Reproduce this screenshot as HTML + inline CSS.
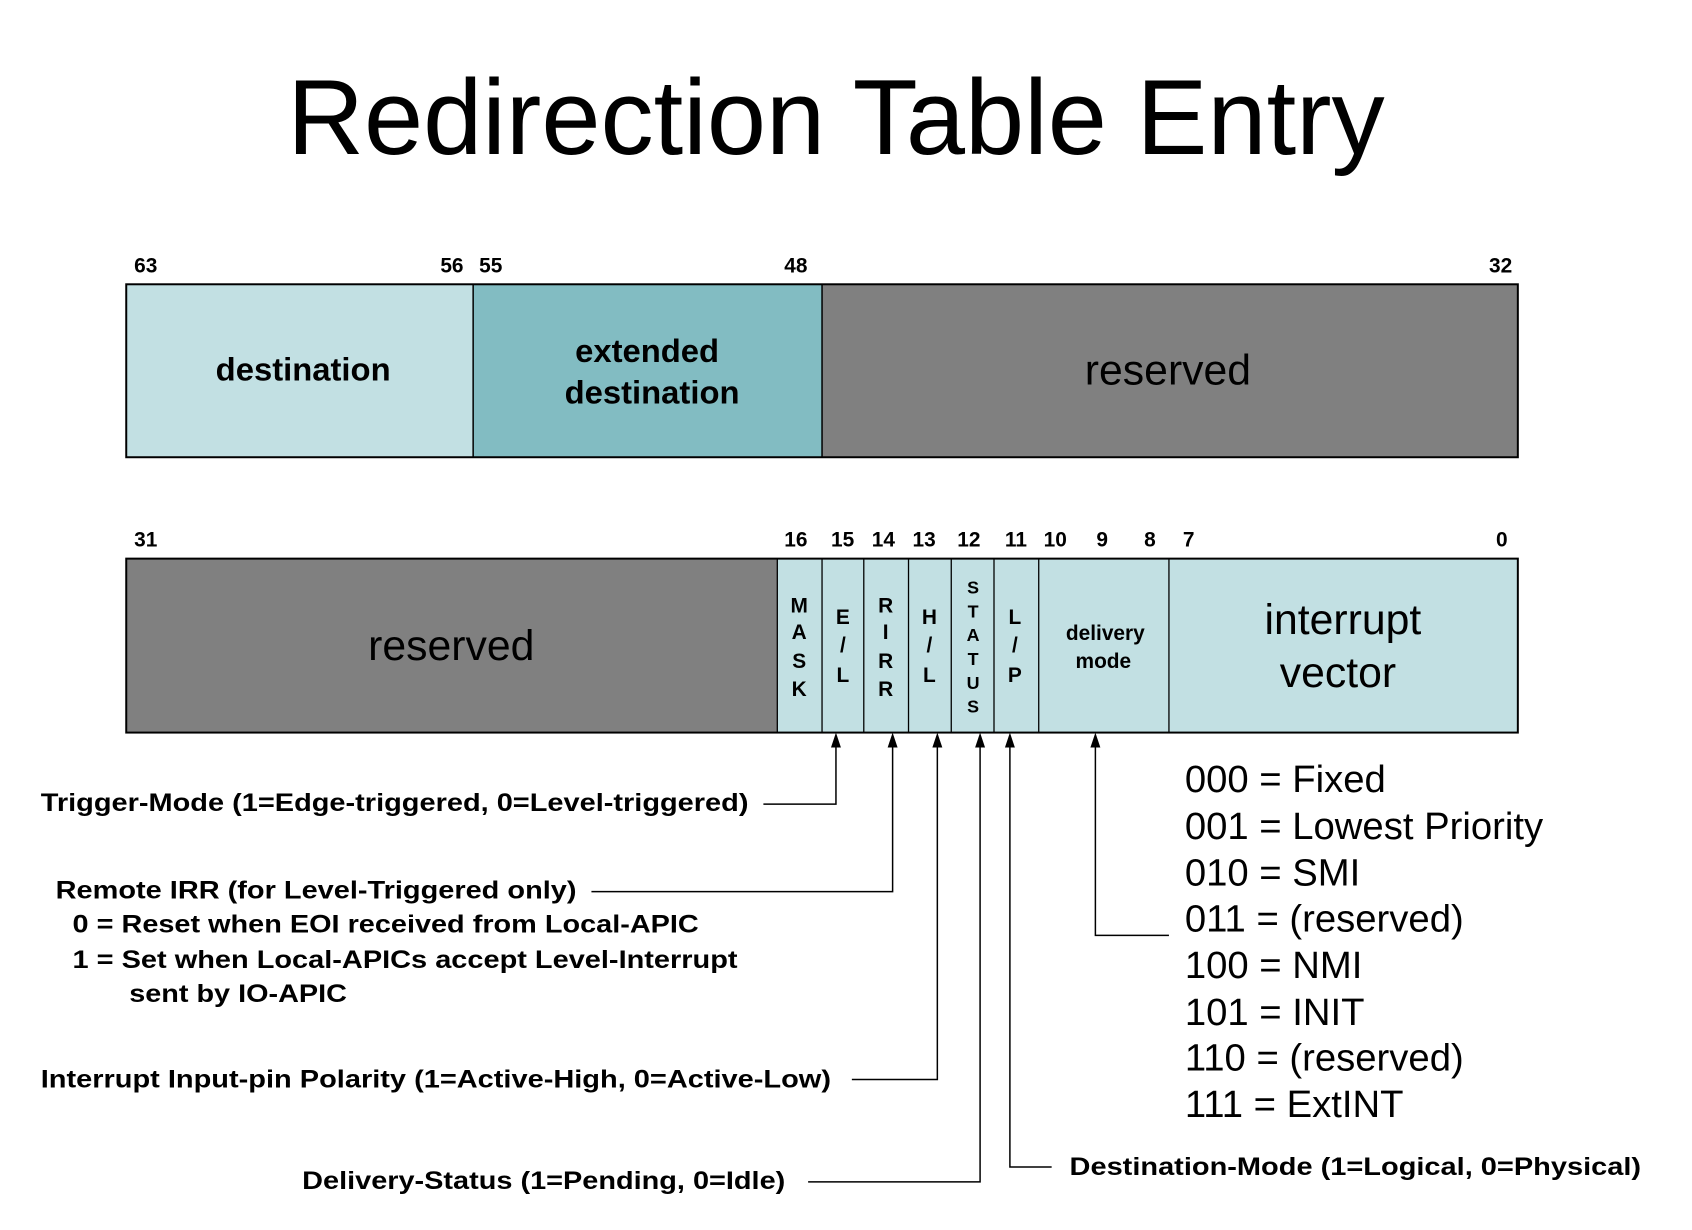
<!DOCTYPE html>
<html><head><meta charset="utf-8"><style>
html,body{margin:0;padding:0;background:#fff;}
svg{display:block;font-family:"Liberation Sans",Arial,sans-serif;}
.b{font-weight:bold;}
</style></head><body>
<svg width="1692" height="1230" viewBox="0 0 1692 1230" xmlns="http://www.w3.org/2000/svg">
<g transform="scale(0.994)">
<text x="841" y="155" font-size="107" text-anchor="middle">Redirection Table Entry</text>

<g class="b" font-size="21">
<text x="135" y="274">63</text>
<text x="443" y="274">56</text>
<text x="482" y="274">55</text>
<text x="789" y="274">48</text>
<text x="1498" y="274">32</text>
</g>
<rect x="127" y="286" width="349" height="174" fill="#c2e0e3"/>
<rect x="476" y="286" width="351" height="174" fill="#82bcc2"/>
<rect x="827" y="286" width="700" height="174" fill="#808080"/>
<rect x="127" y="286" width="1400" height="174" fill="none" stroke="#000" stroke-width="2"/>
<line x1="476" y1="286" x2="476" y2="460" stroke="#000" stroke-width="1.5"/>
<line x1="827" y1="286" x2="827" y2="460" stroke="#000" stroke-width="1.5"/>
<text x="305" y="383" class="b" font-size="33" text-anchor="middle">destination</text>
<text x="651" y="364" class="b" font-size="33" text-anchor="middle">extended</text>
<text x="656" y="406" class="b" font-size="33" text-anchor="middle">destination</text>
<text x="1175" y="387" font-size="43" text-anchor="middle">reserved</text>

<g class="b" font-size="21">
<text x="135" y="550">31</text>
<text x="789" y="550">16</text>
<text x="836" y="550">15</text>
<text x="877" y="550">14</text>
<text x="918" y="550">13</text>
<text x="963" y="550">12</text>
<text x="1011" y="550">11</text>
<text x="1050" y="550">10</text>
<text x="1103" y="550">9</text>
<text x="1151" y="550">8</text>
<text x="1190" y="550">7</text>
<text x="1505" y="550">0</text>
</g>
<rect x="127" y="562" width="655" height="175" fill="#808080"/>
<rect x="782" y="562" width="745" height="175" fill="#c2e0e3"/>
<rect x="127" y="562" width="1400" height="175" fill="none" stroke="#000" stroke-width="2"/>
<g stroke="#000" stroke-width="1.3">
<line x1="782" y1="562" x2="782" y2="737"/>
<line x1="827" y1="562" x2="827" y2="737"/>
<line x1="869" y1="562" x2="869" y2="737"/>
<line x1="914" y1="562" x2="914" y2="737"/>
<line x1="957" y1="562" x2="957" y2="737"/>
<line x1="1000" y1="562" x2="1000" y2="737"/>
<line x1="1045" y1="562" x2="1045" y2="737"/>
<line x1="1176" y1="562" x2="1176" y2="737"/>
</g>
<text x="454" y="664" font-size="43" text-anchor="middle">reserved</text>
<g class="b" font-size="21" text-anchor="middle">
<text x="804" y="616">M</text><text x="804" y="643">A</text><text x="804" y="672">S</text><text x="804" y="700">K</text>
<text x="848" y="628">E</text><text x="848" y="656">/</text><text x="848" y="686">L</text>
<text x="891" y="616">R</text><text x="891" y="643">I</text><text x="891" y="672">R</text><text x="891" y="700">R</text>
<text x="935" y="628">H</text><text x="935" y="656">/</text><text x="935" y="686">L</text>
<g font-size="18"><text x="979" y="597">S</text><text x="979" y="621">T</text><text x="979" y="645">A</text><text x="979" y="669">T</text><text x="979" y="693">U</text><text x="979" y="717">S</text></g>
<text x="1021" y="628">L</text><text x="1021" y="656">/</text><text x="1021" y="686">P</text>
<text x="1112" y="644">delivery</text><text x="1110" y="672">mode</text>
</g>
<text x="1351" y="638" font-size="43" text-anchor="middle">interrupt</text>
<text x="1346" y="691" font-size="43" text-anchor="middle">vector</text>

<g stroke="#000" stroke-width="1.5" fill="none">
<polyline points="768,809 841,809 841,746"/>
<polyline points="595,897 898,897 898,746"/>
<polyline points="857,1086 943,1086 943,746"/>
<polyline points="813,1189 986,1189 986,746"/>
<polyline points="1058,1174 1016,1174 1016,746"/>
<polyline points="1176,941 1102,941 1102,746"/>
</g>
<g fill="#000">
<polygon points="841,737 836,752 846,752"/>
<polygon points="898,737 893,752 903,752"/>
<polygon points="943,737 938,752 948,752"/>
<polygon points="986,737 981,752 991,752"/>
<polygon points="1016,737 1011,752 1021,752"/>
<polygon points="1102,737 1097,752 1107,752"/>
</g>

<g class="b" font-size="25" lengthAdjust="spacingAndGlyphs">
<text x="41" y="816" textLength="712" lengthAdjust="spacingAndGlyphs">Trigger-Mode (1=Edge-triggered, 0=Level-triggered)</text>
<text x="56" y="904" textLength="524" lengthAdjust="spacingAndGlyphs">Remote IRR (for Level-Triggered only)</text>
<text x="73" y="938" textLength="630" lengthAdjust="spacingAndGlyphs">0 = Reset when EOI received from Local-APIC</text>
<text x="73" y="974" textLength="669" lengthAdjust="spacingAndGlyphs">1 = Set when Local-APICs accept Level-Interrupt</text>
<text x="130" y="1008" textLength="219" lengthAdjust="spacingAndGlyphs">sent by IO-APIC</text>
<text x="41" y="1094" textLength="795" lengthAdjust="spacingAndGlyphs">Interrupt Input-pin Polarity (1=Active-High, 0=Active-Low)</text>
<text x="304" y="1196" textLength="486" lengthAdjust="spacingAndGlyphs">Delivery-Status (1=Pending, 0=Idle)</text>
<text x="1076" y="1182" textLength="575" lengthAdjust="spacingAndGlyphs">Destination-Mode (1=Logical, 0=Physical)</text>
</g>
<g font-size="38.5">
<text x="1192" y="797">000 = Fixed</text>
<text x="1192" y="844">001 = Lowest Priority</text>
<text x="1192" y="891">010 = SMI</text>
<text x="1192" y="937">011 = (reserved)</text>
<text x="1192" y="984">100 = NMI</text>
<text x="1192" y="1031">101 = INIT</text>
<text x="1192" y="1077">110 = (reserved)</text>
<text x="1192" y="1124">111 = ExtINT</text>
</g>
</g>
</svg>
</body></html>
